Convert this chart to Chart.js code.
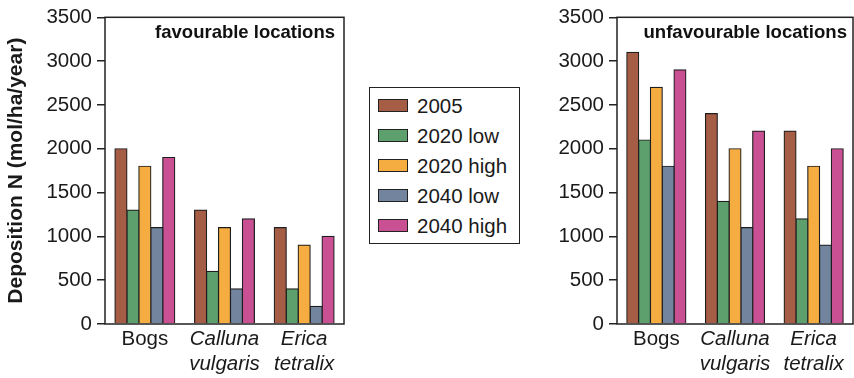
<!DOCTYPE html>
<html>
<head>
<meta charset="utf-8">
<script src="https://cdn.jsdelivr.net/npm/chart.js@4/dist/chart.umd.min.js"></script>
<style>
  body { margin: 0; background: #fff; width: 854px; height: 378px; overflow: hidden; position: relative;
         font-family: "Liberation Sans", Arial, sans-serif; color: #1a1a1a; }
  canvas { position: absolute; top: 0; }
  #left { left: 0; }
  #right { left: 540px; }
  #legend { position: absolute; left: 369px; top: 87px; width: 149px; height: 155px; border: 1.5px solid #222; }
  .item { position: absolute; left: 8px; height: 24px; font-size: 20.5px; line-height: 24px; white-space: nowrap; }
  .sw { display: inline-block; width: 28px; height: 11px; border: 1.5px solid #222; vertical-align: middle;
        margin-right: 9px; position: relative; top: -2px; }
</style>
</head>
<body>
<canvas id="left" width="352" height="378"></canvas>
<canvas id="right" width="314" height="378"></canvas>
<div id="legend"></div>
<script>
var categories = [['Bogs'], ['Calluna', 'vulgaris'], ['Erica', 'tetralix']];
var seriesNames = ['2005', '2020 low', '2020 high', '2040 low', '2040 high'];
var seriesColors = ['#a65d45', '#5e9f6e', '#f5ac40', '#73849e', '#c85093'];

// values per series: [Bogs, Calluna vulgaris, Erica tetralix]
var favourable2005 = [2000, 1300, 1100];
var favourable2020low = [1300, 600, 400];
var favourable2020high = [1800, 1100, 900];
var favourable2040low = [1100, 400, 200];
var favourable2040high = [1900, 1200, 1000];

var unfavourable2005 = [3100, 2400, 2200];
var unfavourable2020low = [2100, 1400, 1200];
var unfavourable2020high = [2700, 2000, 1800];
var unfavourable2040low = [1800, 1100, 900];
var unfavourable2040high = [2900, 2200, 2000];

var yMin = 0, yMax = 3500, yStep = 500;

var FONT = '"Liberation Sans", Arial, sans-serif';

// frame around plot area + panel caption in top right corner
var framePlugin = {
  id: 'frame',
  afterDraw: function (chart, args, opts) {
    var a = chart.chartArea, ctx = chart.ctx;
    ctx.save();
    ctx.strokeStyle = '#222';
    ctx.lineWidth = 1.5;
    ctx.strokeRect(a.left, a.top, a.right - a.left, a.bottom - a.top);
    ctx.font = 'bold ' + opts.size + 'px ' + FONT;
    ctx.textAlign = 'right';
    ctx.textBaseline = 'alphabetic';
    ctx.fillStyle = '#111';
    ctx.fillText(opts.text, a.right - opts.inset, a.top + 21);
    ctx.restore();
  }
};

function makeChart(id, values, caption, inset, capSize, yWidth, rightPad, showTitle) {
  var datasets = seriesNames.map(function (name, i) {
    return {
      label: name,
      data: values[i],
      backgroundColor: seriesColors[i],
      borderColor: '#1e1e1e',
      borderWidth: 1.2,
      inflateAmount: 0.6,
      categoryPercentage: 0.75,
      barPercentage: 1.0
    };
  });
  return new Chart(document.getElementById(id).getContext('2d'), {
    type: 'bar',
    data: { labels: categories, datasets: datasets },
    plugins: [framePlugin],
    options: {
      responsive: false,
      animation: false,
      layout: { padding: { top: 14, right: rightPad, bottom: 0, left: 0 } },
      plugins: {
        legend: { display: false },
        tooltip: { enabled: false },
        frame: { text: caption, inset: inset, size: capSize }
      },
      scales: {
        x: {
          grid: { display: false, drawTicks: false },
          border: { display: false },
          ticks: {
            color: '#1a1a1a',
            padding: 3,
            maxRotation: 0,
            font: function (c) {
              return { family: FONT, size: 20.5, lineHeight: 1.2, style: c.index > 0 ? 'italic' : 'normal' };
            }
          },
          afterFit: function (s) { s.height = 54; }
        },
        y: {
          min: yMin,
          max: yMax,
          ticks: {
            stepSize: yStep,
            color: '#1a1a1a',
            padding: 5,
            font: { family: FONT, size: 20.5 },
            callback: function (v) { return String(v); }
          },
          grid: { drawOnChartArea: false, tickLength: 8, color: '#222', lineWidth: 1.5 },
          border: { display: false },
          title: {
            display: showTitle,
            text: 'Deposition N (mol/ha/year)',
            color: '#1a1a1a',
            font: { family: FONT, size: 21, weight: 'bold' },
            padding: { top: 4, bottom: 0 }
          },
          afterFit: function (s) { s.width = yWidth; }
        }
      }
    }
  });
}

makeChart('left',
  [favourable2005, favourable2020low, favourable2020high, favourable2040low, favourable2040high],
  'favourable locations', 9, 18.5, 105, 8, true);
makeChart('right',
  [unfavourable2005, unfavourable2020low, unfavourable2020high, unfavourable2040low, unfavourable2040high],
  'unfavourable locations', 6, 18.6, 77, 1, false);

// legend
var legend = document.getElementById('legend');
seriesNames.forEach(function (name, i) {
  var row = document.createElement('div');
  row.className = 'item';
  row.style.top = (6 + i * 30) + 'px';
  var sw = document.createElement('span');
  sw.className = 'sw';
  sw.style.background = seriesColors[i];
  row.appendChild(sw);
  row.appendChild(document.createTextNode(name));
  legend.appendChild(row);
});
</script>
</body>
</html>
